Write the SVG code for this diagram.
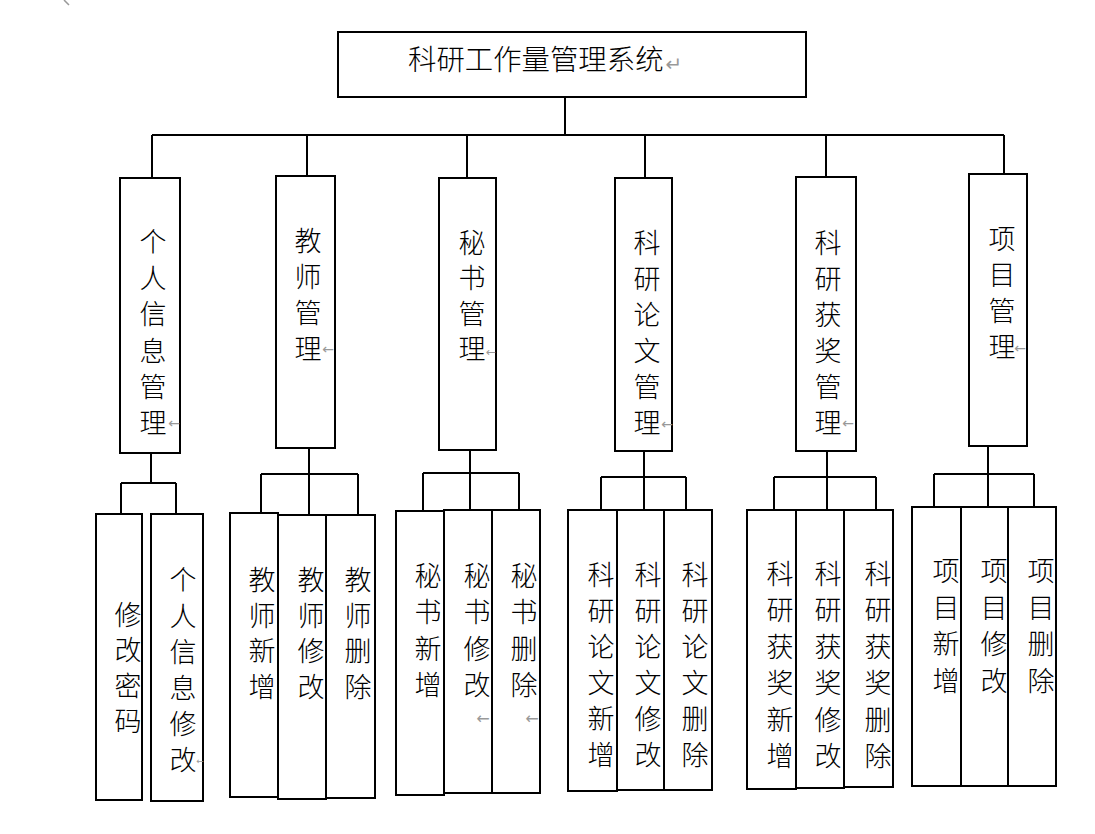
<svg xmlns="http://www.w3.org/2000/svg" width="1095" height="834" viewBox="0 0 1095 834">
<style>
.box{fill:#fff;stroke:#000;stroke-width:2}
.ln{fill:none;stroke:#000;stroke-width:2}
.t{font-family:"Noto Sans CJK SC","Noto Sans CJK JP",sans-serif;font-size:27px;font-weight:300;fill:#000;text-anchor:middle}
.title{font-family:"Noto Sans CJK SC","Noto Sans CJK JP",sans-serif;font-size:28.4px;font-weight:300;fill:#000}
.pm{font-family:"DejaVu Sans",sans-serif;font-size:14px;fill:#999;text-anchor:middle}
</style>
<rect width="1095" height="834" fill="#fff"/>
<path d="M64,0 L69,5" stroke="#999" stroke-width="1.5" fill="none"/>
<g id="connectors">
<path class="ln" d="M565,97 V135 M152,135 H1004 M152,135 V178 M307,135 V176 M467,135 V178 M645,135 V178 M826,135 V177 M1004,135 V174"/>
<path class="ln" d="M151,453 V483 M121,483 H176 M121,483 V514 M176,483 V514"/>
<path class="ln" d="M309,448 V474 M261,474 H358 M261,474 V513 M309,474 V515 M358,474 V515"/>
<path class="ln" d="M470,450 V473 M423,473 H519 M423,473 V511 M470,473 V510 M519,473 V510"/>
<path class="ln" d="M644,451 V477 M601,477 H686 M601,477 V510 M644,477 V510 M686,477 V510"/>
<path class="ln" d="M827,451 V477 M774,477 H876 M774,477 V510 M827,477 V510 M876,477 V510"/>
<path class="ln" d="M988,446 V474 M934,474 H1034 M934,474 V507 M988,474 V507 M1034,474 V507"/>
</g>
<g id="root">
<rect class="box" x="338" y="32" width="468" height="65"/>
<text class="title" x="408" y="70">科研工作量管理系统</text>
<text class="pm" x="674" y="71" style="font-size:20px">↵</text>
</g>
<g id="n1">
<rect class="box" x="120" y="178" width="60" height="275"/>
<text class="t"><tspan x="153" y="252">个</tspan><tspan x="153" dy="36.2">人</tspan><tspan x="153" dy="36.2">信</tspan><tspan x="153" dy="36.2">息</tspan><tspan x="153" dy="36.2">管</tspan><tspan x="153" dy="36.2">理</tspan></text>
<text class="pm" x="174" y="428">←</text>
</g>
<g id="n2">
<rect class="box" x="276" y="176" width="59" height="272"/>
<text class="t"><tspan x="308" y="251">教</tspan><tspan x="308" dy="36">师</tspan><tspan x="308" dy="36">管</tspan><tspan x="308" dy="36">理</tspan></text>
<text class="pm" x="328" y="354">←</text>
</g>
<g id="n3">
<rect class="box" x="439" y="178" width="57" height="272"/>
<text class="t"><tspan x="472" y="252.5">秘</tspan><tspan x="472" dy="35.5">书</tspan><tspan x="472" dy="35.5">管</tspan><tspan x="472" dy="35.5">理</tspan></text>
<text class="pm" x="491" y="356" style="font-size:12px">←</text>
</g>
<g id="n4">
<rect class="box" x="615" y="178" width="57" height="273"/>
<text class="t"><tspan x="647" y="252.5">科</tspan><tspan x="647" dy="36">研</tspan><tspan x="647" dy="36">论</tspan><tspan x="647" dy="36">文</tspan><tspan x="647" dy="36">管</tspan><tspan x="647" dy="36">理</tspan></text>
<text class="pm" x="667" y="429">←</text>
</g>
<g id="n5">
<rect class="box" x="796" y="177" width="60" height="274"/>
<text class="t"><tspan x="828" y="252.5">科</tspan><tspan x="828" dy="36">研</tspan><tspan x="828" dy="36">获</tspan><tspan x="828" dy="36">奖</tspan><tspan x="828" dy="36">管</tspan><tspan x="828" dy="36">理</tspan></text>
<text class="pm" x="848" y="428">←</text>
</g>
<g id="n6">
<rect class="box" x="969" y="174" width="58" height="272"/>
<text class="t"><tspan x="1002" y="249">项</tspan><tspan x="1002" dy="35.9">目</tspan><tspan x="1002" dy="35.9">管</tspan><tspan x="1002" dy="35.9">理</tspan></text>
<text class="pm" x="1020" y="353">←</text>
</g>
<g id="n1a">
<rect class="box" x="96" y="514" width="46" height="286"/>
<text class="t"><tspan x="128" y="625">修</tspan><tspan x="128" dy="35.3">改</tspan><tspan x="128" dy="35.3">密</tspan><tspan x="128" dy="35.3">码</tspan></text>
</g>
<g id="n1b">
<rect class="box" x="151" y="514" width="52" height="287"/>
<text class="t"><tspan x="183" y="590">个</tspan><tspan x="183" dy="36">人</tspan><tspan x="183" dy="36">信</tspan><tspan x="183" dy="36">息</tspan><tspan x="183" dy="36">修</tspan><tspan x="183" dy="36">改</tspan></text>
<text class="pm" x="200" y="764" style="font-size:9px">←</text>
</g>
<g id="n2a">
<rect class="box" x="230" y="513" width="48" height="284"/>
<text class="t"><tspan x="262" y="590">教</tspan><tspan x="262" dy="35.7">师</tspan><tspan x="262" dy="35.7">新</tspan><tspan x="262" dy="35.7">增</tspan></text>
</g>
<g id="n2b">
<rect class="box" x="278" y="515" width="48" height="284"/>
<text class="t"><tspan x="311" y="590">教</tspan><tspan x="311" dy="35.7">师</tspan><tspan x="311" dy="35.7">修</tspan><tspan x="311" dy="35.7">改</tspan></text>
</g>
<g id="n2c">
<rect class="box" x="326" y="515" width="49" height="283"/>
<text class="t"><tspan x="358" y="590">教</tspan><tspan x="358" dy="35.7">师</tspan><tspan x="358" dy="35.7">删</tspan><tspan x="358" dy="35.7">除</tspan></text>
</g>
<g id="n3a">
<rect class="box" x="396" y="511" width="48" height="284"/>
<text class="t"><tspan x="428" y="586">秘</tspan><tspan x="428" dy="36.3">书</tspan><tspan x="428" dy="36.3">新</tspan><tspan x="428" dy="36.3">增</tspan></text>
</g>
<g id="n3b">
<rect class="box" x="444" y="510" width="48" height="283"/>
<text class="t"><tspan x="477" y="586">秘</tspan><tspan x="477" dy="36.3">书</tspan><tspan x="477" dy="36.3">修</tspan><tspan x="477" dy="36.3">改</tspan></text>
<text class="pm" x="483" y="724" style="font-size:16px">←</text>
</g>
<g id="n3c">
<rect class="box" x="492" y="510" width="48" height="283"/>
<text class="t"><tspan x="524" y="586">秘</tspan><tspan x="524" dy="36.3">书</tspan><tspan x="524" dy="36.3">删</tspan><tspan x="524" dy="36.3">除</tspan></text>
<text class="pm" x="532" y="724" style="font-size:16px">←</text>
</g>
<g id="n4a">
<rect class="box" x="568" y="510" width="49" height="281"/>
<text class="t"><tspan x="601" y="585">科</tspan><tspan x="601" dy="36">研</tspan><tspan x="601" dy="36">论</tspan><tspan x="601" dy="36">文</tspan><tspan x="601" dy="36">新</tspan><tspan x="601" dy="36">增</tspan></text>
</g>
<g id="n4b">
<rect class="box" x="617" y="510" width="47" height="280"/>
<text class="t"><tspan x="648" y="585">科</tspan><tspan x="648" dy="36">研</tspan><tspan x="648" dy="36">论</tspan><tspan x="648" dy="36">文</tspan><tspan x="648" dy="36">修</tspan><tspan x="648" dy="36">改</tspan></text>
</g>
<g id="n4c">
<rect class="box" x="664" y="510" width="48" height="280"/>
<text class="t"><tspan x="695" y="585">科</tspan><tspan x="695" dy="36">研</tspan><tspan x="695" dy="36">论</tspan><tspan x="695" dy="36">文</tspan><tspan x="695" dy="36">删</tspan><tspan x="695" dy="36">除</tspan></text>
</g>
<g id="n5a">
<rect class="box" x="747" y="510" width="49" height="279"/>
<text class="t"><tspan x="780" y="584">科</tspan><tspan x="780" dy="36.4">研</tspan><tspan x="780" dy="36.4">获</tspan><tspan x="780" dy="36.4">奖</tspan><tspan x="780" dy="36.4">新</tspan><tspan x="780" dy="36.4">增</tspan></text>
</g>
<g id="n5b">
<rect class="box" x="796" y="510" width="48" height="278"/>
<text class="t"><tspan x="828" y="584">科</tspan><tspan x="828" dy="36.4">研</tspan><tspan x="828" dy="36.4">获</tspan><tspan x="828" dy="36.4">奖</tspan><tspan x="828" dy="36.4">修</tspan><tspan x="828" dy="36.4">改</tspan></text>
</g>
<g id="n5c">
<rect class="box" x="844" y="510" width="49" height="277"/>
<text class="t"><tspan x="878" y="584">科</tspan><tspan x="878" dy="36.4">研</tspan><tspan x="878" dy="36.4">获</tspan><tspan x="878" dy="36.4">奖</tspan><tspan x="878" dy="36.4">删</tspan><tspan x="878" dy="36.4">除</tspan></text>
</g>
<g id="n6a">
<rect class="box" x="912" y="507" width="49" height="279"/>
<text class="t"><tspan x="946" y="581">项</tspan><tspan x="946" dy="36.7">目</tspan><tspan x="946" dy="36.7">新</tspan><tspan x="946" dy="36.7">增</tspan></text>
</g>
<g id="n6b">
<rect class="box" x="961" y="507" width="47" height="279"/>
<text class="t"><tspan x="994" y="581">项</tspan><tspan x="994" dy="36.7">目</tspan><tspan x="994" dy="36.7">修</tspan><tspan x="994" dy="36.7">改</tspan></text>
</g>
<g id="n6c">
<rect class="box" x="1008" y="507" width="48" height="279"/>
<text class="t"><tspan x="1041" y="581">项</tspan><tspan x="1041" dy="36.7">目</tspan><tspan x="1041" dy="36.7">删</tspan><tspan x="1041" dy="36.7">除</tspan></text>
</g>
</svg>
